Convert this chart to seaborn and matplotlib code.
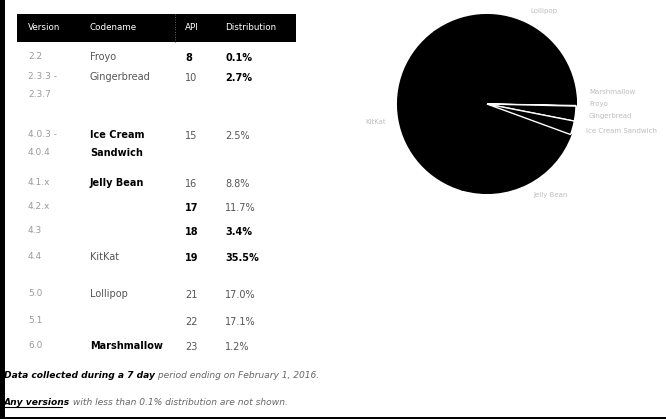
import matplotlib
matplotlib.use("Agg")
import matplotlib.pyplot as plt
import seaborn as sns
import pandas as pd

sns.set_theme(style="white")
plt.rcParams['font.family'] = ['DejaVu Sans']

# table data
versions = ["2.2", "2.3.3 -\n2.3.7", "4.0.3 -\n4.0.4", "4.1.x", "4.2.x", "4.3",
            "4.4", "5.0", "5.1", "6.0"]
codenames = ["Froyo", "Gingerbread", "Ice Cream\nSandwich", "Jelly Bean", "", "",
             "KitKat", "Lollipop", "", "Marshmallow"]
apis = ["8", "10", "15", "16", "17", "18", "19", "21", "22", "23"]
distribution = [0.1, 2.7, 2.5, 8.8, 11.7, 3.4, 35.5, 17.0, 17.1, 1.2]
headers = ["Version", "Codename", "API", "Distribution"]

# pie data (grouped by codename)
pie_labels = ["Froyo", "Gingerbread", "Ice Cream Sandwich", "Jelly Bean",
              "KitKat", "Lollipop", "Marshmallow"]
pie_values = [0.1, 2.7, 2.5, 23.9, 35.5, 34.1, 1.2]

df = pd.DataFrame({"version": versions, "codename": codenames,
                   "api": apis, "dist": distribution})

W, H = 666, 419
fig = plt.figure(figsize=(W / 100, H / 100), dpi=100)

# full-figure axes in pixel units for the table
ax = fig.add_axes([0, 0, 1, 1])
ax.set_xlim(0, W)
ax.set_ylim(H, 0)
ax.axis("off")

# frame: thick left bar, bottom line
ax.add_patch(plt.Rectangle((0, 0), 4.5, H, color="black", lw=0))
ax.add_patch(plt.Rectangle((0, 416.5), W, 3, color="black", lw=0))

# header bar
ax.add_patch(plt.Rectangle((17, 14), 279, 28, color="black", lw=0))
ax.plot([175, 175], [14, 43], color="#888888", lw=0.6, ls=(0, (1, 2)))
col_x = [28, 90, 185, 225]
for x, h in zip(col_x, headers):
    ax.text(x, 28, h, color="white", fontsize=6.3, va="center", ha="left")

row_y = [58, 78, 136, 184, 208, 232, 258, 295, 322, 347]
bold_code = {"Ice Cream\nSandwich", "Jelly Bean", "Marshmallow"}
bold_api = {"8", "17", "18", "19"}
bold_dist = {0.1, 2.7, 3.4, 35.5}

for y, row in zip(row_y, df.itertuples()):
    ax.text(col_x[0], y - 6, row.version, color="#9a9a9a", fontsize=6.5,
            va="top", ha="left", linespacing=2.3)
    cb = row.codename in bold_code
    ax.text(col_x[1], y - 6, row.codename, color="black" if cb else "#555555",
            fontweight="bold" if cb else "normal", fontsize=7,
            va="top", ha="left", linespacing=2.0)
    ab = row.api in bold_api
    ax.text(col_x[2], y, row.api, color="black" if ab else "#555555",
            fontweight="bold" if ab else "normal", fontsize=7, va="center")
    db = row.dist in bold_dist
    ax.text(col_x[3], y, f"{row.dist:.1f}%", color="black" if db else "#555555",
            fontweight="bold" if db else "normal", fontsize=7, va="center")

# footnotes
t1 = ax.text(4, 375, "Data collected during a 7 day", fontsize=6.6, style="italic",
             fontweight="bold", color="black", va="center")
ax.annotate(" period ending on February 1, 2016.", xy=(1, 0.5), xycoords=t1,
            fontsize=6.6, style="italic", color="#666666", va="center")
t2 = ax.text(4, 402, "Any versions", fontsize=6.6, style="italic",
             fontweight="bold", color="black", va="center")
ax.annotate(" with less than 0.1% distribution are not shown.", xy=(1, 0.5),
            xycoords=t2, fontsize=6.6, style="italic", color="#666666", va="center")
ax.plot([4, 62], [406.5, 406.5], color="black", lw=0.8)

# pie chart
cx, cy, r = 487, 104, 89
half = 1.45 * r
pax = fig.add_axes([(cx - half) / W, 1 - (cy + half) / H, 2 * half / W, 2 * half / H])
wedges, texts = pax.pie(pie_values, labels=pie_labels, startangle=-1,
                        counterclock=False, colors=["black"] * len(pie_values),
                        labeldistance=1.15,
                        wedgeprops=dict(edgecolor="black", linewidth=1.5),
                        textprops=dict(color="#bdbdbd", fontsize=5))
for w in wedges[:3]:
    w.set_edgecolor("white")
    w.set_linewidth(1.0)
    w.set_zorder(3)
# spread the crowded labels on the right
for t, yy in zip([texts[6], texts[0], texts[1], texts[2]], [0.14, 0.0, -0.14, -0.3]):
    t.set_y(yy)
pax.set_xlim(-1.45, 1.45)
pax.set_ylim(-1.45, 1.45)
pax.set_aspect("equal")
pax.axis("off")

fig.savefig("out.png", dpi=100)
